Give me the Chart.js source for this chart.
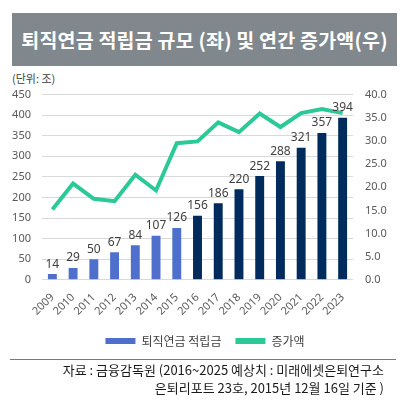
<!DOCTYPE html>
<html>
<head>
<meta charset="utf-8">
<script src="https://cdn.jsdelivr.net/npm/chart.js@4"></script>
<style>
  body { margin: 0; background: #fff; font-family: "Noto Sans", "Noto Sans CJK KR", sans-serif; }
  #wrap { position: relative; width: 410px; height: 408px; overflow: hidden; }
  #title { position: absolute; left: 12px; top: 13px; width: 385px; height: 53px; background: #80878d;
           color: #fff; font-family: "Noto Sans CJK KR", sans-serif; font-weight: bold; font-size: 19.5px;
           line-height: 53px; text-align: center; letter-spacing: 0.2px; }
  #unit { position: absolute; left: 12px; top: 70px; font-size: 11px; color: #404040;
          font-family: "Noto Sans CJK KR", sans-serif; }
  #chartBox { position: absolute; left: 0; top: 76px; width: 410px; height: 285px; }
  #rule { position: absolute; left: 10px; top: 359px; width: 386px; height: 0; border-top: 1px solid #7a7a7a; }
  #source { position: absolute; right: 26px; top: 361px; text-align: right; font-size: 13px; line-height: 17.5px;
            color: #1a1a1a; font-family: "Noto Sans CJK KR", sans-serif; }
</style>
</head>
<body>
<div id="wrap">
  <div id="title">퇴직연금 적립금 규모 (좌) 및 연간 증가액(우)</div>
  <div id="unit">(단위: 조)</div>
  <div id="chartBox"><canvas id="mixed-chart"></canvas></div>
  <div id="rule"></div>
  <div id="source">자료 : 금융감독원 (2016~2025 예상치 : 미래에셋은퇴연구소<br>은퇴리포트 23호, 2015년 12월 16일 기준 )</div>
</div>
<script>
// Chart data
var years = ["2009", "2010", "2011", "2012", "2013", "2014", "2015", "2016",
             "2017", "2018", "2019", "2020", "2021", "2022", "2023"];
var reserves = [14, 29, 50, 67, 84, 107, 126, 156, 186, 220, 252, 288, 321, 357, 394];
var increase = [15.2, 20.8, 17.5, 17.0, 22.7, 19.3, 29.5, 29.9, 34.0, 31.9, 35.9, 33.0, 36.0, 36.9, 36.0];
var leftTicks = { min: 0, max: 450, step: 50 };
var rightTicks = { min: 0, max: 40, step: 5 };
var lastActualYear = "2015";

var actualColor = "#4f6fcc";
var forecastColor = "#002b5c";
var lineColor = "#2cc998";

var barColors = years.map(function (y) {
    return y <= lastActualYear ? actualColor : forecastColor;
});

var tickFont = { family: "'Noto Sans', 'Noto Sans CJK KR', sans-serif", size: 11 };

// value labels above the bars
var barLabels = {
    id: "barLabels",
    afterDatasetsDraw: function (chart) {
        var ctx = chart.ctx;
        chart.data.datasets.forEach(function (ds, di) {
            if (ds.type !== "bar") return;
            var meta = chart.getDatasetMeta(di);
            ctx.save();
            ctx.font = "12px 'Noto Sans', sans-serif";
            ctx.fillStyle = "#404040";
            ctx.textAlign = "center";
            ctx.textBaseline = "bottom";
            meta.data.forEach(function (bar, i) {
                ctx.fillText(ds.data[i], bar.x, bar.y - 4);
            });
            ctx.restore();
        });
    }
};

var ctx = document.getElementById("mixed-chart");

var chart = new Chart(ctx, {
    data: {
        labels: years,
        datasets: [{
            type: "line",
            label: "증가액",
            data: increase,
            yAxisID: "yRight",
            borderColor: lineColor,
            backgroundColor: lineColor,
            borderWidth: 4,
            pointRadius: 0,
            tension: 0,
            order: 0
        }, {
            type: "bar",
            label: "퇴직연금 적립금",
            data: reserves,
            yAxisID: "yLeft",
            backgroundColor: barColors,
            barPercentage: 0.43,
            categoryPercentage: 1,
            order: 1
        }]
    },
    options: {
        responsive: true,
        maintainAspectRatio: false,
        animation: false,
        layout: { padding: { top: 2, left: 0, right: 0, bottom: 4 } },
        plugins: {
            tooltip: { enabled: false },
            legend: {
                position: "bottom",
                reverse: true,
                labels: {
                    boxWidth: 30,
                    boxHeight: 6,
                    padding: 14,
                    color: "#404040",
                    font: { family: "'Noto Sans CJK KR', sans-serif", size: 12 },
                    generateLabels: function (chart) {
                        var items = Chart.defaults.plugins.legend.labels.generateLabels(chart);
                        items.forEach(function (it) {
                            var ds = chart.data.datasets[it.datasetIndex];
                            var c = ds.type === "bar" ? actualColor : lineColor;
                            it.fillStyle = c;
                            it.strokeStyle = c;
                            it.lineWidth = 0;
                        });
                        return items;
                    }
                }
            }
        },
        scales: {
            x: {
                grid: { display: false },
                border: { display: false },
                ticks: {
                    color: "#595959", font: tickFont, minRotation: 45, maxRotation: 45,
                    padding: 3, autoSkip: false
                }
            },
            yLeft: {
                position: "left",
                min: leftTicks.min,
                max: leftTicks.max,
                afterFit: function (s) { s.width = 42; },
                grid: { color: "#d9d9d9", drawTicks: false },
                border: { display: false },
                ticks: { stepSize: leftTicks.step, color: "#595959", font: tickFont, padding: 11 }
            },
            yRight: {
                position: "right",
                min: rightTicks.min,
                max: rightTicks.max,
                afterFit: function (s) { s.width = 57; },
                grid: { display: false, drawTicks: false },
                border: { display: false },
                ticks: {
                    stepSize: rightTicks.step, color: "#595959", font: tickFont, padding: 12,
                    callback: function (v) { return v.toFixed(1); }
                }
            }
        }
    },
    plugins: [barLabels]
});
</script>
</body>
</html>
